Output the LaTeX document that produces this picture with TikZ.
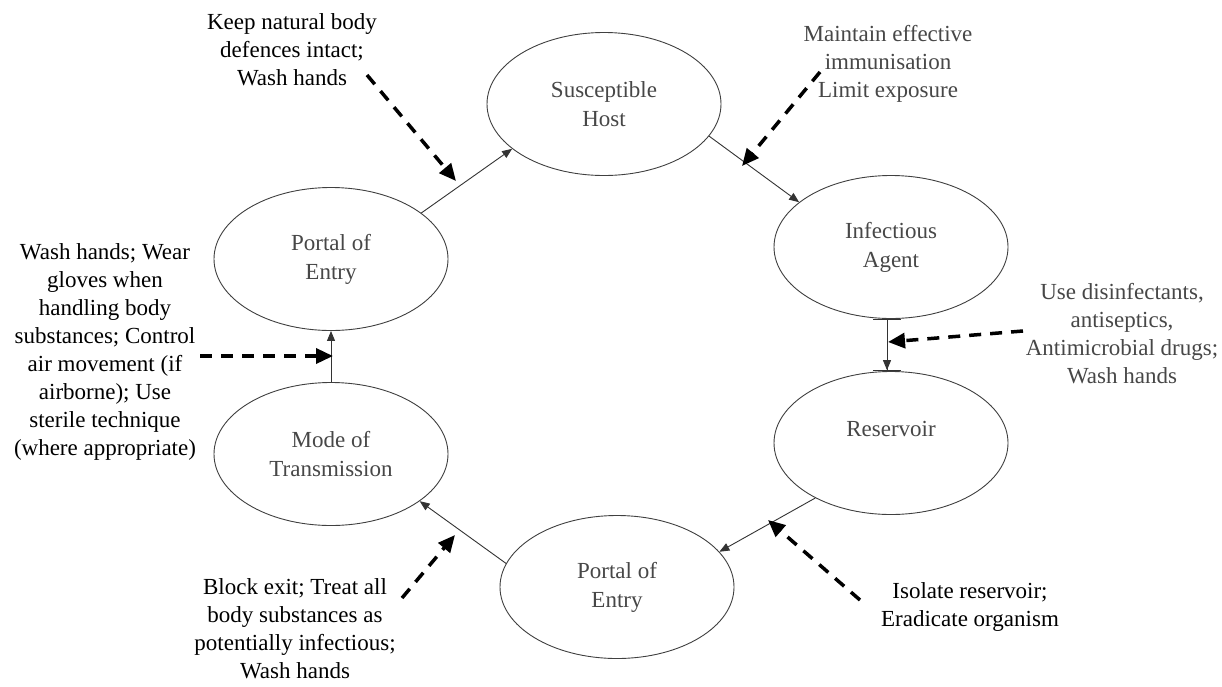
\documentclass[tikz,border=0pt]{standalone}
\usepackage{fontspec}
\setmainfont{Liberation Serif}
\usetikzlibrary{arrows.meta,shapes.geometric}
\tikzset{
  stage/.style    = {ellipse,draw=black!75,line width=0.9pt,minimum width=234pt,
                     minimum height=143pt,inner sep=0pt,align=center,text=black!72,
                     font=\fontsize{23}{29}\selectfont},
  flow/.style     = {-{Triangle[length=10pt,width=8pt]},line width=0.9pt,black!80},
  ctrl/.style     = {-{Triangle[length=17pt,width=15pt]},line width=3.5pt,
                     dash pattern=on 12pt off 9pt},
  note/.style     = {align=center,inner sep=0pt,font=\fontsize{23}{28}\selectfont},
  softnote/.style = {note,text=black!72}
}

\begin{document}
\begin{tikzpicture}[x=1pt,y=-1pt]
  \useasboundingbox[fill=white] (0,0) rectangle (1222,686);
  % the chain
  \node[stage] (host)  at (604,104) {Susceptible\\Host};
  \node[stage] (agent) at (891,247) {Infectious\\Agent};
  \node[stage] (res)   at (891,443) {Reservoir\\\mbox{}};
  \node[stage] (exit)  at (617,587) {Portal of\\Entry};
  \node[stage] (mode)  at (331,454) {Mode of\\Transmission};
  \node[stage] (entry) at (331,259) {Portal of\\Entry};
  \draw[flow] (entry.27)  -- (host.206);
  \draw[flow] (host.-17.6) -- (agent.154);
  \draw[flow,{Bar[width=28pt]}-{Triangle[length=10pt,width=8pt]Bar[width=28pt]}]
        ([xshift=-4pt]agent.south) -- ([xshift=-4pt]res.north);
  \draw[flow] (res.216)   -- (exit.19);
  \draw[flow] (exit.168)  -- (mode.-28);
  \draw[flow] (mode.north) -- (entry.south);
  % control measures
  \node[note]     (keep)    at (292,50)  {Keep natural body\\defences intact;\\Wash hands};
  \node[softnote] (immun)   at (888,64)  {Maintain effective\\immunisation\\Limit exposure};
  \node[softnote] (disinf)  at (1122,334) {Use disinfectants,\\antiseptics,\\Antimicrobial drugs;\\Wash hands};
  \node[note]     (gloves)  at (105,352) {Wash hands; Wear\\gloves when\\handling body\\substances; Control\\air movement (if\\airborne); Use\\sterile technique\\(where appropriate)};
  \node[note]     (block)   at (295,629) {Block exit; Treat all\\body substances as\\potentially infectious;\\Wash hands};
  \node[note]     (isolate) at (970,607) {Isolate reservoir;\\Eradicate organism};
  \coordinate (keepT)    at (367,75);   \coordinate (keepH)    at (456,181);
  \coordinate (immunT)   at (820,72);   \coordinate (immunH)   at (742,166);
  \coordinate (disinfT)  at (1023,331); \coordinate (disinfH)  at (888,342);
  \coordinate (glovesT)  at (200,356);  \coordinate (glovesH)  at (333,356);
  \coordinate (blockT)   at (402,598);  \coordinate (blockH)   at (455,535);
  \coordinate (isolateT) at (860,600);  \coordinate (isolateH) at (768,520);
  \draw[ctrl] (keepT)    -- (keepH);
  \draw[ctrl] (immunT)   -- (immunH);
  \draw[ctrl] (disinfT)  -- (disinfH);
  \draw[ctrl] (glovesT)  -- (glovesH);
  \draw[ctrl] (blockT)   -- (blockH);
  \draw[ctrl] (isolateT) -- (isolateH);
\end{tikzpicture}
\end{document}
